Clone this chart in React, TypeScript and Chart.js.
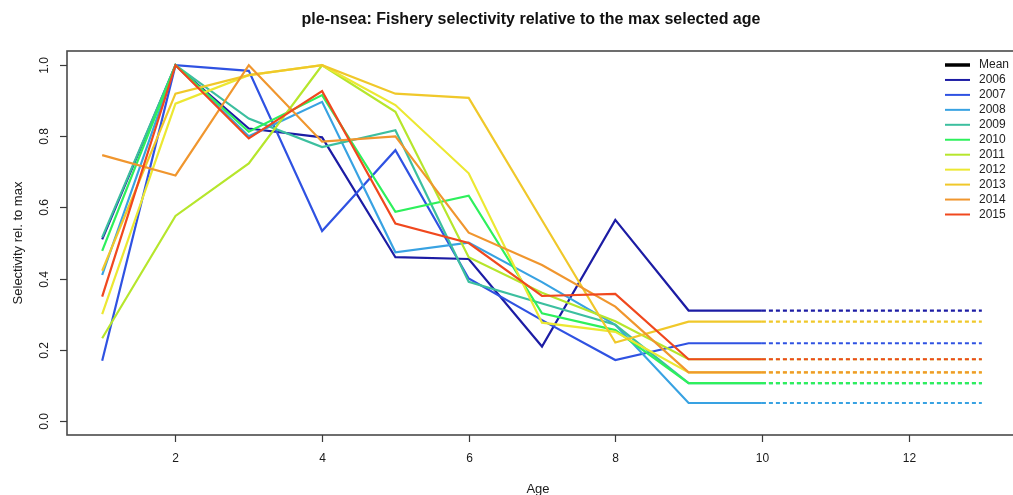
import React, { useEffect, useRef } from "react";
import { Chart, registerables } from "chart.js";

Chart.register(...registerables);

// Ages on the x axis; ages 10+ repeat the plus-group value
const ages = [1, 2, 3, 4, 5, 6, 7, 8, 9, 10, 11, 12, 13];

const years = ["2006", "2007", "2008", "2009", "2010", "2011", "2012", "2013", "2014", "2015"];

// Selectivity relative to the maximum selected age, one array per year
const sel2006 = [0.51, 1.0, 0.822, 0.797, 0.46, 0.455, 0.209, 0.565, 0.31, 0.31, 0.31, 0.31, 0.31];
const sel2007 = [0.169, 1.0, 0.984, 0.534, 0.761, 0.4, 0.283, 0.171, 0.218, 0.218, 0.218, 0.218, 0.218];
const sel2008 = [0.41, 1.0, 0.8, 0.897, 0.474, 0.501, 0.39, 0.27, 0.05, 0.05, 0.05, 0.05, 0.05];
const sel2009 = [0.516, 1.0, 0.85, 0.77, 0.817, 0.391, 0.33, 0.27, 0.106, 0.106, 0.106, 0.106, 0.106];
const sel2010 = [0.478, 1.0, 0.813, 0.916, 0.588, 0.633, 0.302, 0.255, 0.106, 0.106, 0.106, 0.106, 0.106];
const sel2011 = [0.232, 0.576, 0.724, 1.0, 0.869, 0.46, 0.36, 0.28, 0.173, 0.173, 0.173, 0.173, 0.173];
const sel2012 = [0.3, 0.892, 0.972, 1.0, 0.888, 0.696, 0.276, 0.25, 0.136, 0.136, 0.136, 0.136, 0.136];
const sel2013 = [0.422, 0.92, 0.972, 1.0, 0.92, 0.908, 0.564, 0.22, 0.279, 0.279, 0.279, 0.279, 0.279];
const sel2014 = [0.747, 0.69, 1.0, 0.785, 0.8, 0.529, 0.438, 0.321, 0.136, 0.136, 0.136, 0.136, 0.136];
const sel2015 = [0.349, 1.0, 0.794, 0.927, 0.555, 0.5, 0.351, 0.357, 0.173, 0.173, 0.173, 0.173, 0.173];

const selectivity = [sel2006, sel2007, sel2008, sel2009, sel2010, sel2011, sel2012, sel2013, sel2014, sel2015];

const yearColors = [
  "#1c1ca4",
  "#2f52e2",
  "#38a2e2",
  "#3cbf9f",
  "#2ef05c",
  "#b6e62c",
  "#ece832",
  "#f0c82a",
  "#f0962e",
  "#f0481e",
];

const xTicks = [2, 4, 6, 8, 10, 12];
const yTicks = [0, 0.2, 0.4, 0.6, 0.8, 1.0];
const yTickLabels = ["0.0", "0.2", "0.4", "0.6", "0.8", "1.0"];

const legendLabels = ["Mean", ...years];
const legendColors = ["#000000", ...yearColors];

const titleText = "ple-nsea: Fishery selectivity relative to the max selected age";
const xTitle = "Age";
const yTitle = "Selectivity rel. to max";

const FONT = "'Liberation Sans', Arial, Helvetica, sans-serif";

// Box, axes, titles and legend drawn in base-graphics style
const framePlugin = {
  id: "frame",
  afterDraw(chart: any) {
    const { ctx, chartArea: a, scales } = chart;
    const xs = scales.x;
    const ys = scales.y;
    ctx.save();

    ctx.strokeStyle = "#4a4a4a";
    ctx.lineWidth = 1.6;
    ctx.strokeRect(a.left, a.top, a.right - a.left, a.bottom - a.top);

    ctx.fillStyle = "#1a1a1a";
    ctx.font = `12px ${FONT}`;
    ctx.textAlign = "center";
    ctx.textBaseline = "middle";
    ctx.lineWidth = 1.2;
    ctx.strokeStyle = "#3a3a3a";

    xTicks.forEach((v) => {
      const px = Math.round(xs.getPixelForValue(v)) + 0.5;
      ctx.beginPath();
      ctx.moveTo(px, a.bottom);
      ctx.lineTo(px, a.bottom + 7);
      ctx.stroke();
      ctx.fillText(String(v), px, a.bottom + 24);
    });

    yTicks.forEach((v, i) => {
      const py = Math.round(ys.getPixelForValue(v)) + 0.5;
      ctx.beginPath();
      ctx.moveTo(a.left - 7, py);
      ctx.lineTo(a.left, py);
      ctx.stroke();
      ctx.save();
      ctx.translate(a.left - 22, py);
      ctx.rotate(-Math.PI / 2);
      ctx.fillText(yTickLabels[i], 0, 0);
      ctx.restore();
    });

    // axis titles
    ctx.font = `13px ${FONT}`;
    ctx.fillText(xTitle, (a.left + a.right) / 2 - 4, a.bottom + 54);
    ctx.save();
    ctx.translate(18, (a.top + a.bottom) / 2);
    ctx.rotate(-Math.PI / 2);
    ctx.fillText(yTitle, 0, 0);
    ctx.restore();

    // main title
    ctx.font = `bold 16px ${FONT}`;
    ctx.fillStyle = "#111";
    ctx.fillText(titleText, 531, 20);

    // legend
    ctx.font = `12px ${FONT}`;
    ctx.textAlign = "left";
    legendLabels.forEach((label, i) => {
      const ly = 65 + i * 14.95;
      ctx.strokeStyle = legendColors[i];
      ctx.lineWidth = i === 0 ? 3.5 : 2;
      ctx.beginPath();
      ctx.moveTo(945, ly);
      ctx.lineTo(970, ly);
      ctx.stroke();
      ctx.fillStyle = "#222";
      ctx.fillText(label, 979, ly);
    });

    ctx.restore();
  },
};

export default function App() {
  const ref = useRef<HTMLCanvasElement | null>(null);

  useEffect(() => {
    if (!ref.current) return;
    const datasets = years.map((year, i) => ({
      label: year,
      data: ages.map((age, j) => ({ x: age, y: selectivity[i][j] })),
      borderColor: yearColors[i],
      backgroundColor: yearColors[i],
      borderWidth: 2.2,
      pointRadius: 0,
      tension: 0,
      fill: false,
      order: years.length - i,
      segment: {
        borderDash: (c: any) => (c.p0.parsed.x >= 10 ? [4, 3] : undefined),
      },
    }));

    const chart = new Chart(ref.current, {
      type: "line",
      data: { datasets },
      options: {
        animation: false,
        responsive: false,
        maintainAspectRatio: false,
        layout: { padding: { left: 67, top: 51, right: 13, bottom: 60 } },
        plugins: {
          legend: { display: false },
          title: { display: false },
          tooltip: { enabled: false },
        },
        scales: {
          x: { type: "linear", min: 0.52, max: 13.48, display: false },
          y: { type: "linear", min: -0.04, max: 1.04, display: false },
        },
      },
      plugins: [framePlugin],
    });
    return () => chart.destroy();
  }, []);

  return (
    <div
      style={{
        position: "absolute",
        left: 0,
        top: 0,
        width: 1013,
        height: 495,
        overflow: "hidden",
        background: "#fff",
      }}
    >
      <canvas ref={ref} width={1030} height={495} style={{ display: "block" }} />
    </div>
  );
}
